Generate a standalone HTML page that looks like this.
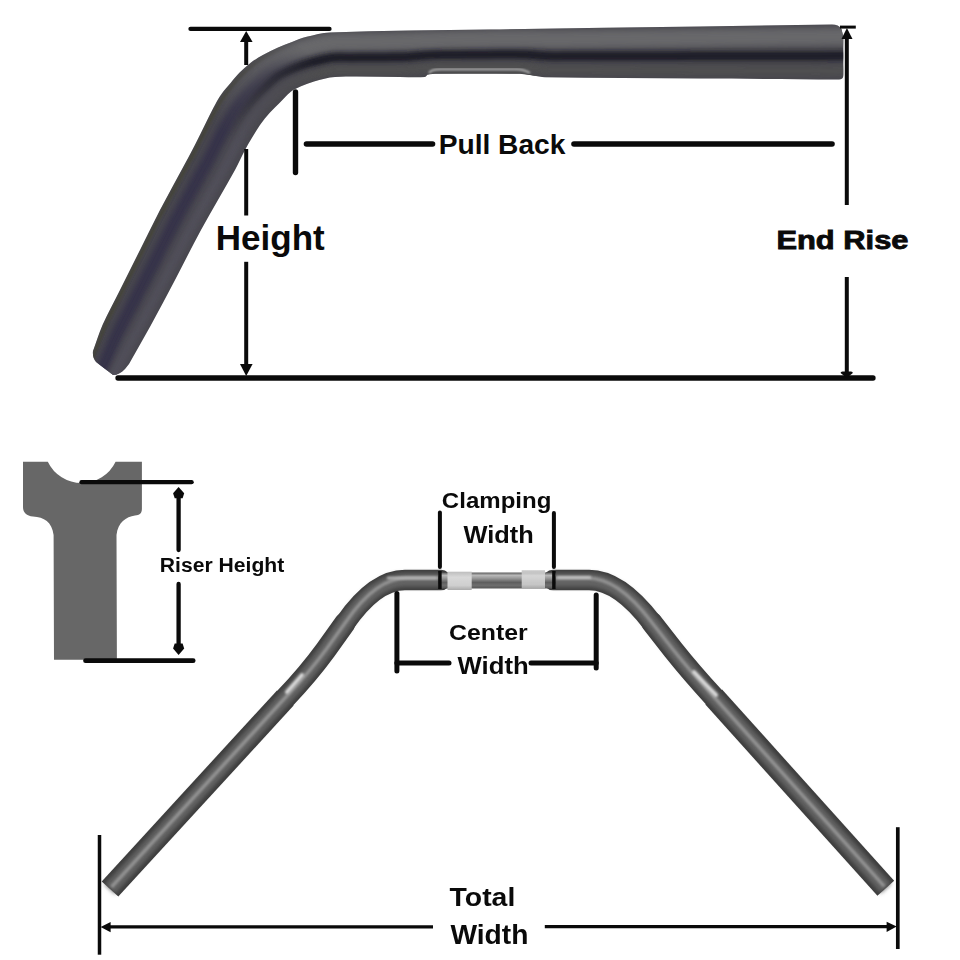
<!DOCTYPE html>
<html><head><meta charset="utf-8">
<style>
html,body{margin:0;padding:0;background:#fff;}
body{width:960px;height:960px;overflow:hidden;}
svg{display:block;}
text{font-family:"Liberation Sans",sans-serif;font-weight:bold;fill:#0a0a0a;}
</style></head><body>
<svg width="960" height="960" viewBox="0 0 960 960">
<defs>
  <clipPath id="tt"><path d="M 93.0 351.0 C 96.2 342.3 98.8 333.4 102.5 325.0 C 107.8 313.1 114.2 301.7 120.0 290.0 C 126.7 276.7 133.3 263.3 140.0 250.0 C 146.7 236.7 153.1 223.2 160.0 210.0 C 169.3 192.2 179.1 174.7 188.6 157.0 C 190.9 152.7 193.2 148.4 195.4 144.0 C 199.1 136.7 202.7 129.3 206.3 122.0 C 208.6 117.3 210.8 112.6 213.3 108.0 C 215.9 103.2 218.4 98.4 221.5 94.0 C 224.3 90.0 227.7 86.4 230.8 82.7 C 233.7 79.3 236.4 75.7 239.6 72.5 C 243.3 68.9 247.2 65.4 251.3 62.3 C 255.0 59.6 258.9 57.2 262.9 55.0 C 267.7 52.4 272.5 49.9 277.5 47.7 C 282.2 45.6 287.1 43.7 292.0 41.9 C 296.9 40.1 301.7 38.1 306.7 36.8 C 314.4 34.9 322.1 32.7 330.0 32.4 C 383.3 30.3 436.7 30.4 490.0 29.5 C 560.0 28.4 630.0 27.5 700.0 26.5 C 743.9 25.9 787.8 25.2 831.7 24.6 C 836 24.5 839.5 26 841.5 29 L 843.3 37 L 843.3 75 C 843.2 78.5 842 79.6 838 79.6 C 787.3 79.1 743.7 78.8 700.0 78.5 C 648.3 78.1 596.7 78.1 545.0 77.2 C 541.0 77.1 537.0 76.1 533.0 75.5 C 528.7 74.9 524.4 73.7 520.0 73.6 C 491.7 73.1 463.3 73.3 435.0 73.6 C 432.6 73.6 430.2 73.7 428.0 74.5 C 426.8 74.9 426.3 76.9 425.0 77.0 C 416.7 77.7 408.3 77.0 400.0 77.0 C 378.3 77.0 356.6 75.9 335.0 77.0 C 327.9 77.4 320.9 79.6 314.0 81.5 C 309.5 82.7 305.2 84.4 301.0 86.3 C 297.5 87.8 293.8 89.4 290.8 91.7 C 286.8 94.8 283.6 98.9 280.0 102.5 C 276.7 105.8 273.1 109.0 270.0 112.5 C 266.5 116.5 263.1 120.6 260.0 125.0 C 257.0 129.3 254.4 133.8 251.7 138.3 C 249.4 142.2 247.1 146.0 245.0 150.0 C 241.5 156.6 238.6 163.5 235.0 170.0 C 223.9 190.1 212.0 209.8 201.0 230.0 C 192.0 246.5 183.7 263.4 175.0 280.0 C 167.1 295.0 159.2 310.1 151.0 325.0 C 143.8 338.1 136.3 351.0 129.0 364.0 L 125 369 C 121 373 117 375 113 375 L 96 362 C 93.5 359 92.5 355 93 351 Z"/></clipPath>
  <linearGradient id="gH" gradientUnits="userSpaceOnUse" x1="300" y1="45" x2="215" y2="125">
    <stop offset="0" stop-color="#fff"/><stop offset="1" stop-color="#000"/></linearGradient>
  <linearGradient id="gD" gradientUnits="userSpaceOnUse" x1="300" y1="45" x2="215" y2="125">
    <stop offset="0" stop-color="#000"/><stop offset="1" stop-color="#fff"/></linearGradient>
  <mask id="mH" maskUnits="userSpaceOnUse" x="0" y="0" width="960" height="960"><rect width="960" height="960" fill="url(#gH)"/></mask>
  <mask id="mD" maskUnits="userSpaceOnUse" x="0" y="0" width="960" height="960"><rect width="960" height="960" fill="url(#gD)"/></mask>
  <filter id="blur3" x="-20%" y="-20%" width="140%" height="140%"><feGaussianBlur stdDeviation="3"/></filter>
  <filter id="blur2" x="-20%" y="-20%" width="140%" height="140%"><feGaussianBlur stdDeviation="2"/></filter>
  <filter id="blur1" x="-20%" y="-20%" width="140%" height="140%"><feGaussianBlur stdDeviation="1"/></filter>
</defs>
<rect width="960" height="960" fill="#fff"/>

<!-- TOP TUBE -->
<path d="M 93.0 351.0 C 96.2 342.3 98.8 333.4 102.5 325.0 C 107.8 313.1 114.2 301.7 120.0 290.0 C 126.7 276.7 133.3 263.3 140.0 250.0 C 146.7 236.7 153.1 223.2 160.0 210.0 C 169.3 192.2 179.1 174.7 188.6 157.0 C 190.9 152.7 193.2 148.4 195.4 144.0 C 199.1 136.7 202.7 129.3 206.3 122.0 C 208.6 117.3 210.8 112.6 213.3 108.0 C 215.9 103.2 218.4 98.4 221.5 94.0 C 224.3 90.0 227.7 86.4 230.8 82.7 C 233.7 79.3 236.4 75.7 239.6 72.5 C 243.3 68.9 247.2 65.4 251.3 62.3 C 255.0 59.6 258.9 57.2 262.9 55.0 C 267.7 52.4 272.5 49.9 277.5 47.7 C 282.2 45.6 287.1 43.7 292.0 41.9 C 296.9 40.1 301.7 38.1 306.7 36.8 C 314.4 34.9 322.1 32.7 330.0 32.4 C 383.3 30.3 436.7 30.4 490.0 29.5 C 560.0 28.4 630.0 27.5 700.0 26.5 C 743.9 25.9 787.8 25.2 831.7 24.6 C 836 24.5 839.5 26 841.5 29 L 843.3 37 L 843.3 75 C 843.2 78.5 842 79.6 838 79.6 C 787.3 79.1 743.7 78.8 700.0 78.5 C 648.3 78.1 596.7 78.1 545.0 77.2 C 541.0 77.1 537.0 76.1 533.0 75.5 C 528.7 74.9 524.4 73.7 520.0 73.6 C 491.7 73.1 463.3 73.3 435.0 73.6 C 432.6 73.6 430.2 73.7 428.0 74.5 C 426.8 74.9 426.3 76.9 425.0 77.0 C 416.7 77.7 408.3 77.0 400.0 77.0 C 378.3 77.0 356.6 75.9 335.0 77.0 C 327.9 77.4 320.9 79.6 314.0 81.5 C 309.5 82.7 305.2 84.4 301.0 86.3 C 297.5 87.8 293.8 89.4 290.8 91.7 C 286.8 94.8 283.6 98.9 280.0 102.5 C 276.7 105.8 273.1 109.0 270.0 112.5 C 266.5 116.5 263.1 120.6 260.0 125.0 C 257.0 129.3 254.4 133.8 251.7 138.3 C 249.4 142.2 247.1 146.0 245.0 150.0 C 241.5 156.6 238.6 163.5 235.0 170.0 C 223.9 190.1 212.0 209.8 201.0 230.0 C 192.0 246.5 183.7 263.4 175.0 280.0 C 167.1 295.0 159.2 310.1 151.0 325.0 C 143.8 338.1 136.3 351.0 129.0 364.0 L 125 369 C 121 373 117 375 113 375 L 96 362 C 93.5 359 92.5 355 93 351 Z" fill="#48474e"/>
<g clip-path="url(#tt)" fill="none" stroke-linecap="round">
  <g mask="url(#mH)">
    <path d="M 91.7 377.1 C 94.8 369.4 97.9 361.6 100.9 353.9 C 103.0 348.6 105.0 343.2 107.2 338.0 C 109.5 332.5 112.0 327.0 114.7 321.6 C 117.3 316.1 120.3 310.8 123.0 305.3 C 125.8 299.8 128.6 294.3 131.4 288.8 C 134.3 283.1 137.2 277.4 140.1 271.7 C 143.0 266.0 145.8 260.3 148.7 254.6 C 151.6 248.9 154.5 243.2 157.3 237.5 C 160.2 231.8 163.0 226.1 166.0 220.4 C 168.8 215.1 171.6 209.7 174.5 204.4 C 177.3 199.1 180.3 193.8 183.1 188.5 C 186.0 183.2 188.9 177.9 191.8 172.6 C 194.9 166.9 198.0 161.3 201.0 155.6 C 204.1 149.6 207.1 143.5 210.2 137.5 C 212.9 132.2 215.4 126.9 218.2 121.6 C 221.2 116.1 223.9 110.6 227.3 105.4 C 230.9 99.8 235.0 94.5 239.3 89.4 C 243.2 84.7 247.4 80.2 252.0 76.1 C 256.6 71.9 261.5 67.9 266.8 64.5 C 271.6 61.4 276.8 58.9 282.1 56.5 C 287.3 54.1 292.8 52.0 298.3 50.1 C 303.9 48.2 309.7 46.5 315.5 45.2 C 321.4 43.9 327.4 42.7 333.5 42.2 C 339.3 41.6 345.2 42.0 351.1 41.9 C 357.1 41.8 363.2 41.7 369.2 41.7 C 375.2 41.6 381.3 41.5 387.3 41.4 C 393.3 41.3 399.3 41.3 405.4 41.1 C 411.8 41.0 418.3 40.5 424.8 40.3 C 430.4 40.1 436.1 40.0 441.8 39.9 C 447.8 39.8 453.8 39.7 459.9 39.6 C 465.9 39.5 471.9 39.5 477.9 39.4 C 484.0 39.3 490.0 39.2 496.0 39.1 C 502.0 39.1 508.0 39.0 514.0 38.9 C 519.5 38.9 525.0 38.8 530.5 38.9 C 537.0 39.0 543.5 39.3 550.0 39.3 C 556.0 39.4 562.0 39.2 568.0 39.2 C 574.0 39.1 580.0 39.1 586.0 39.0 C 592.0 38.9 598.0 38.9 604.0 38.8 C 610.0 38.8 616.0 38.7 622.0 38.7 C 628.0 38.6 634.0 38.6 640.0 38.5 C 646.0 38.4 652.0 38.4 658.0 38.3 C 664.0 38.3 670.0 38.2 676.0 38.2 C 682.0 38.1 688.0 38.1 694.0 38.0 C 700.1 37.9 706.1 37.9 712.2 37.8 C 718.3 37.8 724.4 37.7 730.5 37.6 C 736.7 37.6 742.8 37.5 749.0 37.5 C 755.1 37.4 761.2 37.3 767.3 37.3 C 773.4 37.2 779.5 37.2 785.6 37.1 C 791.8 37.0 797.9 37.0 804.1 36.9 C 810.2 36.9 816.3 36.8 822.4 36.7 C 835.7 36.6 849.1 36.5 862.4 36.4" stroke="#68686b" stroke-width="18" filter="url(#blur3)"/>
    <path d="M 103.2 381.2 C 106.6 373.6 110.1 366.0 113.5 358.4 C 115.6 353.9 117.5 349.4 119.7 344.9 C 122.2 339.6 124.9 334.3 127.6 329.1 C 130.5 323.6 133.5 318.1 136.4 312.6 C 139.3 307.0 142.2 301.5 145.1 295.9 C 148.0 290.3 150.9 284.6 153.9 279.0 C 156.8 273.3 159.7 267.7 162.6 262.0 C 165.5 256.3 168.4 250.7 171.3 245.0 C 174.2 239.3 177.1 233.6 180.0 227.9 C 182.8 222.7 185.6 217.5 188.4 212.3 C 191.3 207.0 194.3 201.7 197.2 196.4 C 200.2 191.1 203.1 185.8 206.0 180.5 C 209.2 174.9 212.4 169.3 215.4 163.6 C 218.7 157.4 221.7 151.0 225.0 144.8 C 227.5 139.8 230.1 134.8 232.8 129.9 C 235.7 124.7 238.4 119.5 241.7 114.6 C 245.1 109.5 248.8 104.7 252.8 100.1 C 256.4 96.0 260.2 92.0 264.2 88.3 C 268.5 84.2 272.8 80.1 277.6 76.7 C 281.2 74.2 285.3 72.4 289.3 70.5 C 294.0 68.4 298.7 66.5 303.5 64.9 C 308.6 63.2 313.7 61.8 318.9 60.6 C 323.9 59.5 329.0 58.3 334.1 57.8 C 339.8 57.3 345.4 57.7 351.1 57.7 C 357.1 57.6 363.1 57.6 369.1 57.5 C 375.1 57.5 381.1 57.4 387.2 57.4 C 393.2 57.3 399.2 57.5 405.2 57.2 C 412.4 56.9 419.5 56.0 426.7 55.6 C 431.7 55.3 436.8 55.1 441.9 55.0 C 447.9 54.9 453.9 54.9 459.9 54.9 C 465.9 54.8 472.0 54.8 478.0 54.7 C 484.0 54.7 490.0 54.6 496.0 54.6 C 502.0 54.6 508.0 54.5 514.0 54.5 C 518.7 54.5 523.3 54.6 528.0 54.8 C 535.3 55.2 542.7 56.1 550.0 56.3 C 556.0 56.6 562.0 56.3 568.0 56.3 C 574.0 56.3 580.0 56.3 586.0 56.3 C 592.0 56.3 598.0 56.3 604.0 56.3 C 610.0 56.3 616.0 56.3 622.0 56.2 C 628.0 56.2 634.0 56.2 640.0 56.2 C 646.0 56.2 652.0 56.2 658.0 56.2 C 664.0 56.2 670.0 56.2 676.0 56.2 C 682.0 56.2 688.0 56.2 694.0 56.1 C 700.0 56.1 706.1 56.1 712.1 56.1 C 718.2 56.1 724.2 56.1 730.3 56.1 C 736.5 56.1 742.8 56.0 749.0 56.0 C 755.1 56.0 761.1 56.0 767.2 56.0 C 773.2 56.0 779.3 56.0 785.3 55.9 C 791.6 55.9 797.8 55.9 804.1 55.9 C 810.1 55.9 816.2 55.9 822.2 55.9 C 835.6 55.8 848.9 55.7 862.2 55.6" stroke="#1f1e26" stroke-width="9" filter="url(#blur2)"/>
    <path d="M 112.1 384.2 C 115.9 376.8 119.8 369.4 123.6 362.1 C 125.6 358.2 127.6 354.3 129.7 350.4 C 132.4 345.3 135.2 340.2 138.0 335.1 C 141.0 329.5 144.1 324.0 147.1 318.4 C 150.1 312.8 153.0 307.2 156.0 301.6 C 158.9 296.0 161.9 290.4 164.9 284.8 C 167.8 279.2 170.8 273.6 173.7 267.9 C 176.6 262.3 179.6 256.6 182.5 250.9 C 185.4 245.3 188.3 239.6 191.3 233.9 C 194.0 228.8 196.7 223.7 199.5 218.7 C 202.5 213.3 205.5 208.1 208.5 202.8 C 211.4 197.5 214.4 192.2 217.4 186.9 C 220.6 181.3 223.8 175.7 226.8 170.1 C 230.3 163.6 233.4 157.0 236.8 150.5 C 239.3 145.8 241.8 141.1 244.4 136.5 C 247.3 131.6 250.0 126.6 253.3 121.9 C 256.4 117.3 259.9 112.9 263.6 108.7 C 266.9 104.9 270.5 101.5 274.0 98.0 C 278.0 94.1 281.8 89.9 286.2 86.5 C 288.8 84.4 292.0 83.2 295.1 81.8 C 299.2 79.9 303.4 78.1 307.7 76.7 C 312.3 75.2 316.9 74.1 321.6 73.0 C 325.9 71.9 330.2 70.7 334.7 70.3 C 340.1 69.8 345.6 70.3 351.0 70.3 C 357.0 70.2 363.0 70.2 369.0 70.2 C 375.0 70.2 381.0 70.2 387.1 70.2 C 393.1 70.1 399.1 70.4 405.1 70.1 C 412.8 69.7 420.5 68.4 428.2 67.8 C 432.8 67.5 437.4 67.2 442.0 67.1 C 448.0 67.0 454.0 67.1 460.0 67.1 C 466.0 67.1 472.0 67.0 478.0 67.0 C 484.0 67.0 490.0 67.0 496.0 67.0 C 502.0 67.0 508.0 66.8 514.0 66.9 C 518.0 67.0 522.0 67.2 526.0 67.5 C 534.0 68.2 542.0 69.5 550.0 70.0 C 556.0 70.3 562.0 70.0 568.0 70.0 C 574.0 70.1 580.0 70.1 586.0 70.1 C 592.0 70.2 598.0 70.2 604.0 70.2 C 610.0 70.3 616.0 70.3 622.0 70.3 C 628.0 70.3 634.0 70.4 640.0 70.4 C 646.0 70.4 652.0 70.5 658.0 70.5 C 664.0 70.5 670.0 70.6 676.0 70.6 C 682.0 70.6 688.0 70.6 694.0 70.7 C 700.0 70.7 706.0 70.7 712.0 70.7 C 718.1 70.8 724.1 70.8 730.1 70.8 C 736.4 70.8 742.7 70.9 749.0 70.9 C 755.0 70.9 761.0 70.9 767.1 70.9 C 773.1 71.0 779.1 71.0 785.1 71.0 C 791.4 71.0 797.7 71.1 804.0 71.1 C 810.0 71.1 816.1 71.2 822.1 71.1 C 835.4 71.1 848.7 70.9 862.1 70.8" stroke="#4f4f50" stroke-width="9" filter="url(#blur3)"/>
  </g>
  <g mask="url(#mD)">
    <path d="M 86.4 375.2 C 89.3 367.4 92.2 359.6 95.2 351.8 C 97.3 346.1 99.2 340.4 101.5 334.8 C 103.7 329.2 106.2 323.7 108.8 318.2 C 111.3 312.7 114.2 307.4 116.9 302.0 C 119.7 296.5 122.4 291.0 125.2 285.5 C 128.1 279.8 130.9 274.1 133.8 268.4 C 136.7 262.7 139.5 257.0 142.4 251.3 C 145.2 245.6 148.1 239.8 151.0 234.1 C 153.8 228.4 156.6 222.7 159.6 217.0 C 162.3 211.6 165.2 206.2 168.1 200.8 C 170.9 195.4 173.8 190.2 176.7 184.9 C 179.6 179.6 182.5 174.3 185.3 169.0 C 188.4 163.3 191.5 157.6 194.5 151.9 C 197.5 146.0 200.4 140.1 203.4 134.2 C 206.1 128.8 208.8 123.2 211.6 117.8 C 214.5 112.2 217.3 106.5 220.7 101.2 C 224.5 95.4 228.7 89.8 233.1 84.5 C 237.2 79.6 241.6 74.8 246.4 70.5 C 251.2 66.2 256.4 62.4 261.8 58.9 C 267.2 55.5 273.0 52.7 278.7 50.1 C 284.3 47.6 290.0 45.4 295.8 43.4 C 301.8 41.4 307.8 39.6 313.9 38.2 C 320.3 36.8 326.7 35.6 333.1 35.0 C 339.1 34.5 345.1 34.8 351.1 34.7 C 357.2 34.6 363.2 34.5 369.2 34.4 C 375.3 34.3 381.3 34.2 387.3 34.1 C 393.4 34.0 399.4 33.9 405.4 33.8 C 411.6 33.7 417.8 33.5 423.9 33.3 C 429.8 33.2 435.8 33.1 441.7 33.0 C 447.8 32.9 453.8 32.8 459.8 32.7 C 465.9 32.6 471.9 32.5 477.9 32.4 C 484.0 32.3 490.0 32.2 496.0 32.1 C 502.0 32.0 508.0 31.9 514.0 31.8 C 519.9 31.8 525.7 31.7 531.6 31.6 C 537.7 31.6 543.9 31.6 550.0 31.6 C 556.0 31.5 562.0 31.4 568.0 31.3 C 574.0 31.2 580.0 31.2 586.0 31.1 C 592.0 31.0 598.0 30.9 604.0 30.9 C 610.0 30.8 616.0 30.7 622.0 30.6 C 628.0 30.6 634.0 30.5 640.0 30.4 C 646.0 30.3 652.0 30.2 658.0 30.2 C 664.0 30.1 670.0 30.0 676.0 29.9 C 682.0 29.9 688.0 29.8 694.0 29.7 C 700.1 29.6 706.2 29.5 712.2 29.5 C 718.4 29.4 724.5 29.3 730.6 29.2 C 736.7 29.1 742.9 29.1 749.0 29.0 C 755.1 28.9 761.2 28.8 767.4 28.7 C 773.5 28.7 779.6 28.6 785.7 28.5 C 791.9 28.4 798.0 28.3 804.1 28.3 C 810.2 28.2 816.4 28.1 822.5 28.0 C 835.8 27.9 849.1 27.8 862.5 27.7" stroke="#45443a" stroke-width="3.5" filter="url(#blur1)"/>
    <path d="M 97.7 379.2 C 100.9 371.5 104.2 363.9 107.4 356.2 C 109.5 351.3 111.4 346.4 113.6 341.5 C 116.1 336.1 118.7 330.8 121.3 325.5 C 124.1 320.0 127.1 314.5 129.9 309.0 C 132.8 303.5 135.6 298.0 138.4 292.5 C 141.4 286.8 144.3 281.1 147.2 275.5 C 150.1 269.8 153.0 264.1 155.9 258.4 C 158.8 252.7 161.6 247.0 164.5 241.4 C 167.4 235.7 170.3 229.9 173.2 224.3 C 176.0 219.0 178.8 213.7 181.6 208.5 C 184.5 203.1 187.5 197.9 190.4 192.6 C 193.3 187.3 196.2 182.0 199.1 176.7 C 202.2 171.0 205.4 165.4 208.4 159.7 C 211.6 153.6 214.6 147.4 217.8 141.3 C 220.4 136.1 223.0 130.9 225.7 125.9 C 228.6 120.6 231.4 115.2 234.7 110.1 C 238.2 104.8 242.1 99.8 246.2 94.9 C 250.0 90.5 254.0 86.3 258.3 82.3 C 262.7 78.2 267.3 74.2 272.3 70.8 C 276.5 67.9 281.2 65.8 285.8 63.7 C 290.7 61.5 295.8 59.5 301.0 57.7 C 306.3 55.9 311.7 54.4 317.2 53.2 C 322.7 51.9 328.2 50.7 333.8 50.2 C 339.5 49.7 345.3 50.1 351.1 50.0 C 357.1 49.9 363.1 49.9 369.1 49.8 C 375.2 49.7 381.2 49.7 387.2 49.6 C 393.2 49.6 399.3 49.6 405.3 49.4 C 412.1 49.2 418.9 48.5 425.8 48.2 C 431.1 47.9 436.5 47.8 441.8 47.7 C 447.8 47.5 453.9 47.5 459.9 47.5 C 465.9 47.4 471.9 47.3 478.0 47.3 C 484.0 47.2 490.0 47.1 496.0 47.1 C 502.0 47.0 508.0 46.9 514.0 46.9 C 519.1 46.9 524.1 46.9 529.2 47.1 C 536.1 47.3 543.1 47.9 550.0 48.1 C 556.0 48.2 562.0 48.0 568.0 48.0 C 574.0 48.0 580.0 47.9 586.0 47.9 C 592.0 47.9 598.0 47.8 604.0 47.8 C 610.0 47.8 616.0 47.7 622.0 47.7 C 628.0 47.7 634.0 47.6 640.0 47.6 C 646.0 47.6 652.0 47.6 658.0 47.5 C 664.0 47.5 670.0 47.5 676.0 47.4 C 682.0 47.4 688.0 47.4 694.0 47.3 C 700.1 47.3 706.1 47.3 712.2 47.2 C 718.2 47.2 724.3 47.2 730.4 47.1 C 736.6 47.1 742.8 47.0 749.0 47.0 C 755.1 47.0 761.2 46.9 767.2 46.9 C 773.3 46.9 779.4 46.8 785.5 46.8 C 791.7 46.8 797.9 46.7 804.1 46.7 C 810.2 46.6 816.2 46.6 822.3 46.6 C 835.6 46.5 849.0 46.4 862.3 46.3" stroke="#34314a" stroke-width="12" filter="url(#blur3)"/>
    <path d="M 109.9 383.5 C 113.6 376.0 117.3 368.6 121.1 361.1 C 123.1 357.1 125.1 353.0 127.2 349.0 C 129.8 343.9 132.6 338.7 135.4 333.6 C 138.4 328.0 141.5 322.5 144.5 316.9 C 147.4 311.4 150.3 305.8 153.3 300.2 C 156.2 294.6 159.2 289.0 162.1 283.4 C 165.1 277.7 168.0 272.1 170.9 266.4 C 173.9 260.8 176.8 255.1 179.7 249.4 C 182.6 243.8 185.5 238.1 188.5 232.4 C 191.2 227.3 193.9 222.2 196.7 217.1 C 199.7 211.8 202.7 206.5 205.7 201.2 C 208.6 195.9 211.6 190.6 214.6 185.3 C 217.7 179.7 221.0 174.1 224.0 168.5 C 227.4 162.1 230.5 155.5 233.9 149.1 C 236.4 144.3 238.9 139.6 241.5 134.9 C 244.4 129.9 247.1 124.8 250.4 120.1 C 253.6 115.4 257.2 110.9 260.9 106.6 C 264.2 102.7 267.9 99.1 271.6 95.6 C 275.6 91.6 279.5 87.4 284.0 84.0 C 286.9 81.8 290.4 80.5 293.7 79.0 C 297.9 77.0 302.2 75.2 306.7 73.7 C 311.3 72.2 316.1 71.0 320.9 69.9 C 325.4 68.8 329.9 67.6 334.6 67.2 C 340.0 66.7 345.5 67.1 351.0 67.1 C 357.0 67.1 363.0 67.1 369.1 67.0 C 375.1 67.0 381.1 67.0 387.1 67.0 C 393.1 66.9 399.1 67.2 405.1 66.9 C 412.7 66.5 420.2 65.3 427.8 64.8 C 432.5 64.4 437.2 64.2 441.9 64.1 C 447.9 64.0 454.0 64.0 460.0 64.0 C 466.0 64.0 472.0 64.0 478.0 63.9 C 484.0 63.9 490.0 63.9 496.0 63.9 C 502.0 63.9 508.0 63.7 514.0 63.8 C 518.2 63.9 522.4 64.0 526.5 64.3 C 534.4 64.9 542.2 66.1 550.0 66.6 C 556.0 66.9 562.0 66.6 568.0 66.6 C 574.0 66.6 580.0 66.7 586.0 66.7 C 592.0 66.7 598.0 66.7 604.0 66.7 C 610.0 66.8 616.0 66.8 622.0 66.8 C 628.0 66.8 634.0 66.8 640.0 66.9 C 646.0 66.9 652.0 66.9 658.0 66.9 C 664.0 66.9 670.0 67.0 676.0 67.0 C 682.0 67.0 688.0 67.0 694.0 67.0 C 700.0 67.1 706.0 67.1 712.1 67.1 C 718.1 67.1 724.1 67.1 730.1 67.1 C 736.4 67.1 742.7 67.2 749.0 67.2 C 755.0 67.2 761.1 67.2 767.1 67.2 C 773.1 67.2 779.1 67.2 785.2 67.2 C 791.5 67.3 797.7 67.3 804.0 67.3 C 810.1 67.3 816.1 67.4 822.1 67.3 C 835.4 67.3 848.8 67.1 862.1 67.0" stroke="#514f5a" stroke-width="10" filter="url(#blur3)"/>
  </g>
</g>
<!-- notch highlight -->
<path d="M 428 74.5 C 430 71 433 70.5 440 70.5 L 518 70.5 C 524 70.5 530 72 537 76 L 520 73.8 L 435 73.8 Z" fill="#4a4a4c"/>
<path d="M 429 73 C 431 70 434 69.3 440 69.3 L 517 69.3 C 522 69.3 526 70.5 530 73" fill="none" stroke="#c2c2c2" stroke-width="1.8" filter="url(#blur1)"/>

<!-- top dimension lines -->
<g stroke="#0a0a0a" fill="none">
  <line x1="190.5" y1="28.9" x2="329.5" y2="28.9" stroke-width="4.3" stroke-linecap="round"/>
  <line x1="246.2" y1="40" x2="246.2" y2="65" stroke-width="4"/>
  <line x1="246.2" y1="149" x2="246.2" y2="215.5" stroke-width="4"/>
  <line x1="246.2" y1="261.8" x2="246.2" y2="366" stroke-width="4"/>
  <line x1="118" y1="378" x2="873" y2="378" stroke-width="5.3" stroke-linecap="round"/>
  <line x1="295.5" y1="92" x2="295.5" y2="172.5" stroke-width="5.4" stroke-linecap="round"/>
  <line x1="306.5" y1="144" x2="432.5" y2="144" stroke-width="5.6" stroke-linecap="round"/>
  <line x1="574" y1="144" x2="832" y2="144" stroke-width="5.6" stroke-linecap="round"/>
  <line x1="846.8" y1="36" x2="846.8" y2="205" stroke-width="4"/>
  <line x1="846.8" y1="277" x2="846.8" y2="372" stroke-width="4"/>
  <line x1="840" y1="27.1" x2="855.8" y2="27.1" stroke-width="3"/>
</g>
<g fill="#0a0a0a">
  <polygon points="246.2,30.9 240,42 252.6,42"/>
  <polygon points="246.2,376 240,364 252.6,364"/>
  <polygon points="846.9,28 841.5,39 852.5,39"/>
  <path d="M 846.8 378 L 840.6 373 Q 840.6 371.5 842.5 371.5 L 851 371.5 Q 852.8 371.5 852.8 373 Z"/>
</g>

<!-- RISER -->
<path d="M 23 461.7 L 47.8 461.7 A 37.6 37.6 0 0 0 115.6 461.7 L 141.9 461.7 L 141.9 509 C 141.9 513.5 139.5 515 135 515.5 C 126 517 118 522 116.5 535 L 116.9 659.8 L 54 659.8 L 53.6 535 C 52 522 44 517 33 516.5 C 26 516 23 512 23 507 Z" fill="#676767"/>
<g stroke="#0a0a0a" fill="none" stroke-width="4.3" stroke-linecap="round">
  <line x1="81.5" y1="482.2" x2="191.6" y2="482.2"/>
  <line x1="85.5" y1="660.7" x2="193.2" y2="660.7" stroke-width="4.7"/>
  <line x1="178.6" y1="495" x2="178.6" y2="550"/>
  <line x1="178.6" y1="584" x2="178.6" y2="646"/>
</g>
<g fill="#0a0a0a">
  <path d="M 178.6 486.9 L 184.2 493.3 L 182.6 498.3 L 174.7 498.3 L 173.1 493.3 Z"/>
  <path d="M 178.6 654.9 L 184.2 648.5 L 182.6 643.5 L 174.7 643.5 L 173.1 648.5 Z"/>
</g>

<!-- BOTTOM BAR -->
<g fill="none" stroke-linejoin="round">
<path d="M 441 580 L 405 580 Q 374.8 580 345 623" stroke="#3c3c3c" stroke-width="20.5" stroke-linecap="round" />
<path d="M 345 623 L 325.7 650 Q 308.2 674 285.3 698" stroke="#3c3c3c" stroke-width="21.5" stroke-linecap="round" />
<path d="M 285.3 698 L 110 889" stroke="#3c3c3c" stroke-width="22.5" stroke-linecap="butt" />
<path d="M 553 580 L 589 580 Q 619.4 580 652.2 623" stroke="#3c3c3c" stroke-width="20.5" stroke-linecap="round" />
<path d="M 652.2 623 L 673.3 650 Q 690.8 672 713.75 697" stroke="#3c3c3c" stroke-width="21.5" stroke-linecap="round" />
<path d="M 713.75 697 L 885.8 888.3" stroke="#3c3c3c" stroke-width="22.5" stroke-linecap="butt" />
</g>
<g fill="none" stroke-linejoin="round" stroke-linecap="butt" filter="url(#blur2)">
  <path d="M 441 580 L 405 580 Q 374.8 580 345 623 L 325.7 650 Q 308.2 674 285.3 698 L 110 889" stroke="#636363" stroke-width="14"/>
  <path d="M 553 580 L 589 580 Q 619.4 580 652.2 623 L 673.3 650 Q 690.8 672 713.75 697 L 885.8 888.3" stroke="#636363" stroke-width="14"/>
</g>
<g fill="none" stroke-linejoin="round" filter="url(#blur1)">
  <path d="M 441 580 L 405 580 Q 374.8 580 345 623 L 325.7 650 Q 308.2 674 285.3 698 L 110 889" stroke="#929292" stroke-width="3.5" transform="translate(1.5,-2)"/>
  <path d="M 553 580 L 589 580 Q 619.4 580 652.2 623 L 673.3 650 Q 690.8 672 713.75 697 L 885.8 888.3" stroke="#929292" stroke-width="3.5" transform="translate(-1.5,-2)"/>
</g>
<g fill="none" stroke="#d8d8d8" stroke-linecap="round" filter="url(#blur1)">
  <path d="M 287 692 Q 295 683 302 675" stroke-width="4"/>
  <path d="M 694 672 Q 705 684 716 695" stroke-width="4"/>
  <path d="M 388 578 L 436 578" stroke-width="2.5" stroke="#b8b8b8"/>
  <path d="M 558 577.5 L 590 577.5" stroke-width="2.5" stroke="#c8c8c8"/>
</g>
<!-- center chrome section -->
<defs>
  <linearGradient id="chrome" x1="0" y1="0" x2="0" y2="1">
    <stop offset="0" stop-color="#5a5a5a"/>
    <stop offset="0.18" stop-color="#b8b8b8"/>
    <stop offset="0.35" stop-color="#9a9a9a"/>
    <stop offset="0.62" stop-color="#5e5e5e"/>
    <stop offset="0.8" stop-color="#6e6e6e"/>
    <stop offset="1" stop-color="#555"/>
  </linearGradient>
  <linearGradient id="knurl" x1="0" y1="0" x2="0" y2="1">
    <stop offset="0" stop-color="#bdbdbd"/>
    <stop offset="0.3" stop-color="#d8d8d8"/>
    <stop offset="0.75" stop-color="#cfcfcf"/>
    <stop offset="1" stop-color="#aaaaaa"/>
  </linearGradient>
</defs>
<rect x="438" y="572.5" width="118" height="16" fill="url(#chrome)"/>
<rect x="447.5" y="571.7" width="24.2" height="18.3" fill="url(#knurl)"/>
<rect x="521.7" y="570.3" width="23.3" height="18.7" fill="url(#knurl)" opacity="0.92"/>

<g stroke="#0a0a0a" fill="none" stroke-linecap="round">
  <line x1="439.9" y1="512.5" x2="439.9" y2="567" stroke-width="4"/>
  <line x1="439.9" y1="571" x2="439.9" y2="589" stroke-width="3.5" stroke-linecap="butt"/>
  <line x1="553.9" y1="513" x2="553.9" y2="567" stroke-width="4"/>
  <line x1="553.9" y1="571" x2="553.9" y2="589" stroke-width="3.5" stroke-linecap="butt"/>
  <line x1="396.9" y1="593.5" x2="396.9" y2="671" stroke-width="5"/>
  <line x1="596.2" y1="595" x2="596.2" y2="668" stroke-width="5"/>
  <line x1="396.9" y1="662.9" x2="449" y2="662.9" stroke-width="5"/>
  <line x1="531" y1="662.9" x2="596.2" y2="662.9" stroke-width="5"/>
  <line x1="99.5" y1="835" x2="99.5" y2="954.7" stroke-width="3.5" stroke-linecap="butt"/>
  <line x1="897.8" y1="827.2" x2="897.8" y2="949" stroke-width="3.7" stroke-linecap="butt"/>
  <line x1="108" y1="926.9" x2="433" y2="926.9" stroke-width="3.2" stroke-linecap="butt"/>
  <line x1="544.8" y1="926.6" x2="889" y2="926.6" stroke-width="3.2" stroke-linecap="butt"/>
</g>
<g fill="#0a0a0a">
  <polygon points="100.6,926.9 110.6,921.9 110.6,932.2"/>
  <polygon points="896.7,926.6 886.6,921.7 886.6,931.9"/>
</g>
<text transform="matrix(0.3503 0 0 0.3417 215.75 249.60)" font-size="100" >Height</text>
<text transform="matrix(0.2819 0 0 0.2819 438.63 153.60)" font-size="100" >Pull Back</text>
<text transform="matrix(0.3087 0 0 0.2597 776.44 249.00)" font-size="100" stroke="#0a0a0a" stroke-width="3.2">End Rise</text>
<text transform="matrix(0.2116 0 0 0.1944 159.77 572.00)" font-size="100" >Riser Height</text>
<text transform="matrix(0.2405 0 0 0.2192 441.84 508.40)" font-size="100" >Clamping</text>
<text transform="matrix(0.2541 0 0 0.2431 463.50 542.70)" font-size="100" >Width</text>
<text transform="matrix(0.2484 0 0 0.2192 449.01 640.00)" font-size="100" >Center</text>
<text transform="matrix(0.2570 0 0 0.2319 457.60 673.90)" font-size="100" >Width</text>
<text transform="matrix(0.2838 0 0 0.2639 449.62 906.00)" font-size="100" >Total</text>
<text transform="matrix(0.2819 0 0 0.2674 450.40 943.75)" font-size="100" >Width</text>
</svg>
</body></html>
